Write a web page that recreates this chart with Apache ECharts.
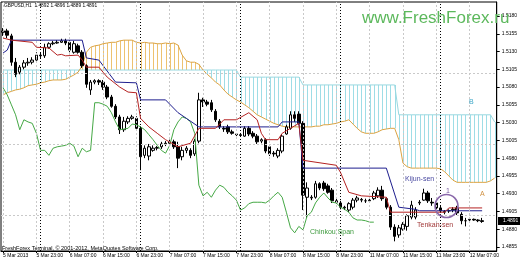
<!DOCTYPE html>
<html><head><meta charset="utf-8">
<script src="https://cdn.jsdelivr.net/npm/echarts@6/dist/echarts.min.js"></script>
<style>html,body{margin:0;padding:0;background:#fff}#c{width:520px;height:260px}</style>
</head><body><div id="c"></div>
<script>
const timeLabels = ['5 Mar 2013','5 Mar 23:00','6 Mar 07:00','6 Mar 15:00','6 Mar 23:00','7 Mar 07:00','7 Mar 15:00','7 Mar 23:00','8 Mar 07:00','8 Mar 15:00','8 Mar 23:00','11 Mar 07:00','11 Mar 15:00','11 Mar 23:00','12 Mar 07:00'];
const priceTicks = [1.4855,1.4880,1.4905,1.4930,1.4955,1.4980,1.5005,1.5030,1.5055,1.5080,1.5105,1.5130,1.5155,1.5180];
const gridBars = [0,8,16,24,32,40,48,56,64,72,80,88,96,104,112];
const daySeparators = [9,33,57,81,105];
const barSlots = 119;
const lastBar = {open:1.4892, high:1.4896, low:1.4889, close:1.4891};

// [open, close, low, high]
const candles = [
[1.5157,1.5159,1.5152,1.5163],[1.5159,1.5153,1.5149,1.5162],[1.5152,1.5115,1.5110,1.5155],[1.5115,1.5098,1.5094,1.5121],
[1.5101,1.5108,1.5098,1.5111],[1.5108,1.5114,1.5105,1.5118],[1.5114,1.5115,1.5110,1.5121],[1.5115,1.5118,1.5112,1.5122],
[1.5118,1.5125,1.5117,1.5129],[1.5125,1.5124,1.5121,1.5129],[1.5124,1.5136,1.5121,1.5141],[1.5136,1.5141,1.5134,1.5143],
[1.5141,1.5142,1.5139,1.5145],[1.5142,1.5143,1.5141,1.5146],[1.5143,1.5145,1.5142,1.5148],[1.5145,1.5142,1.5139,1.5148],
[1.5143,1.5132,1.5129,1.5146],[1.5129,1.5141,1.5127,1.5145],[1.5138,1.5129,1.5127,1.5141],[1.5129,1.5110,1.5107,1.5132],
[1.5110,1.5084,1.5079,1.5112],[1.5076,1.5087,1.5069,1.5090],[1.5087,1.5089,1.5084,1.5091],[1.5089,1.5087,1.5083,1.5091],
[1.5087,1.5080,1.5076,1.5090],[1.5080,1.5066,1.5063,1.5083],[1.5066,1.5053,1.5051,1.5069],[1.5053,1.5038,1.5035,1.5056],
[1.5038,1.5020,1.5014,1.5041],[1.5020,1.5032,1.5017,1.5038],[1.5031,1.5036,1.5028,1.5039],[1.5036,1.5038,1.5034,1.5041],
[1.5036,1.5022,1.5020,1.5039],[1.5022,1.4982,1.4963,1.5025],[1.4984,1.4994,1.4980,1.4998],[1.4983,1.4996,1.4977,1.5000],
[1.4991,1.4994,1.4989,1.4998],[1.4994,1.4995,1.4991,1.4997],[1.4996,1.5000,1.4993,1.5003],[1.5000,1.5001,1.4997,1.5004],
[1.5001,1.5003,1.4998,1.5006],[1.5003,1.4996,1.4993,1.5006],[1.4996,1.4980,1.4966,1.5003],[1.4982,1.4991,1.4977,1.4996],
[1.4991,1.4994,1.4987,1.4997],[1.4991,1.4984,1.4980,1.4994],[1.4986,1.5004,1.4983,1.5007],[1.5004,1.5062,1.5001,1.5072],
[1.5062,1.5059,1.5052,1.5065],[1.5059,1.5056,1.5053,1.5062],[1.5058,1.5048,1.5045,1.5062],[1.5046,1.5034,1.5031,1.5049],
[1.5032,1.5024,1.5021,1.5035],[1.5022,1.5021,1.5017,1.5025],[1.5024,1.5017,1.5014,1.5027],[1.5017,1.5015,1.5013,1.5020],
[1.5014,1.5013,1.5011,1.5015],[1.5013,1.5012,1.5010,1.5014],[1.5011,1.5022,1.5010,1.5025],[1.5022,1.5014,1.5011,1.5025],
[1.5015,1.5011,1.5008,1.5018],[1.5011,1.5003,1.5000,1.5014],[1.5004,1.5006,1.5001,1.5008],[1.5006,1.4990,1.4987,1.5008],
[1.4996,1.4986,1.4983,1.4998],[1.4987,1.4986,1.4982,1.4990],[1.4983,1.4991,1.4980,1.4994],[1.4990,1.5011,1.4987,1.5014],
[1.5014,1.5024,1.5013,1.5027],[1.5022,1.5041,1.5020,1.5046],[1.5041,1.5036,1.5031,1.5046],[1.5042,1.5029,1.5027,1.5046],
[1.5029,1.4928,1.4907,1.5032],[1.4925,1.4938,1.4896,1.4946],[1.4924,1.4925,1.4921,1.4928],[1.4925,1.4944,1.4923,1.4948],
[1.4944,1.4938,1.4935,1.4946],[1.4945,1.4937,1.4934,1.4948],[1.4941,1.4932,1.4930,1.4944],[1.4935,1.4920,1.4917,1.4938],
[1.4920,1.4918,1.4916,1.4923],[1.4917,1.4911,1.4908,1.4920],[1.4910,1.4911,1.4907,1.4913],[1.4907,1.4916,1.4904,1.4918],
[1.4911,1.4921,1.4908,1.4924],[1.4921,1.4924,1.4918,1.4927],[1.4921,1.4922,1.4918,1.4924],[1.4920,1.4920,1.4917,1.4923],
[1.4920,1.4921,1.4918,1.4924],[1.4923,1.4931,1.4921,1.4934],[1.4927,1.4935,1.4924,1.4939],[1.4935,1.4923,1.4920,1.4941],
[1.4923,1.4911,1.4908,1.4925],[1.4911,1.4883,1.4879,1.4914],[1.4883,1.4870,1.4863,1.4887],[1.4872,1.4882,1.4868,1.4886],
[1.4880,1.4887,1.4878,1.4890],[1.4884,1.4899,1.4878,1.4901],[1.4897,1.4914,1.4894,1.4920],[1.4897,1.4907,1.4894,1.4911],
[1.4917,1.4918,1.4914,1.4921],[1.4921,1.4931,1.4920,1.4937],[1.4931,1.4920,1.4917,1.4934],[1.4918,1.4917,1.4913,1.4924],
[1.4917,1.4910,1.4908,1.4920],[1.4910,1.4906,1.4903,1.4913],[1.4904,1.4905,1.4901,1.4907],[1.4906,1.4906,1.4903,1.4908],
[1.4907,1.4908,1.4904,1.4911],[1.4910,1.4903,1.4900,1.4913],[1.4901,1.4892,1.4887,1.4904],[1.4892,1.4892,1.4884,1.4896],
[1.4893,1.4894,1.4890,1.4896],[1.4894,1.4893,1.4892,1.4895],[1.4893,1.4892,1.4890,1.4894],[1.4892,1.4891,1.4889,1.4896]
];

// [bar index, price] vertices
const tenkan = [[0,1.5149],[2,1.5146],[7,1.5143],[8,1.5136],[11,1.5135],[13,1.5125],[14,1.5126],[15,1.5124],[18,1.5125],[19,1.5118],
[20,1.5108],[23,1.5108],[24,1.5101],[25,1.5094],[28,1.5080],[30,1.5073],[32,1.5072],[33,1.5036],[35,1.5024],[37,1.5015],
[39,1.5006],[42,1.4996],[45,1.5001],[47,1.5022],[51,1.5022],[53,1.5034],[56,1.5034],[59,1.5044],[61,1.5034],[62,1.5015],
[63,1.5006],[66,1.5006],[67,1.5015],[69,1.5022],[71,1.5029],[72,1.4977],[80,1.4970],[81,1.4960],[83,1.4932],[86,1.4927],
[92,1.4925],[93,1.4904],[106,1.4904],[107,1.4910],[115,1.4910]];
const kijun = [[0,1.5128],[1,1.5132],[2,1.5146],[19,1.5146],[20,1.5121],[23,1.5118],[27,1.5087],[32,1.5086],[33,1.5062],[39,1.5062],
[42,1.5044],[44,1.5036],[47,1.5024],[66,1.5024],[67,1.5031],[71,1.5031],[72,1.4966],[92,1.4966],[95,1.4911],[99,1.4908],
[100,1.4906],[115,1.4906]];

const chikou = [
1.5079,1.5069,1.5055,1.5041,1.5020,1.5034,1.5031,1.5029,1.5015,1.4991,
1.4991,1.4984,1.4994,1.4996,1.4997,1.4998,1.5001,1.4997,1.4982,1.4994,
1.4989,1.4991,1.5058,1.5058,1.5056,1.5053,1.5044,1.5031,1.5020,1.5021,
1.5022,1.5028,1.5027,1.5024,1.5020,1.5013,1.5006,1.4998,1.4991,1.4987,
1.4998,1.5020,1.5031,1.5038,1.5036,1.5031,1.5015,1.4942,1.4927,1.4932,
1.4925,1.4935,1.4942,1.4939,1.4932,1.4927,1.4921,1.4907,1.4910,1.4916,
1.4918,1.4918,1.4918,1.4917,1.4921,1.4927,1.4932,1.4925,1.4904,1.4882,
1.4875,1.4884,1.4879,1.4899,1.4904,1.4917,1.4925,1.4931,1.4924,1.4918,
1.4917,1.4911,1.4908,1.4904,1.4896,1.4893,1.4893,1.4892,1.4890,1.4890];

const spanA = [
1.5069,1.5072,1.5074,1.5076,1.5077,1.5079,1.5082,1.5083,1.5084,1.5086,
1.5087,1.5089,1.5090,1.5090,1.5090,1.5091,1.5094,1.5097,1.5101,1.5110,
1.5129,1.5136,1.5138,1.5139,1.5141,1.5142,1.5143,1.5143,1.5145,1.5146,
1.5146,1.5146,1.5143,1.5142,1.5143,1.5142,1.5142,1.5141,1.5141,1.5142,
1.5141,1.5142,1.5139,1.5125,1.5117,1.5115,1.5115,1.5112,1.5104,1.5098,
1.5093,1.5087,1.5083,1.5076,1.5070,1.5066,1.5062,1.5059,1.5055,1.5051,
1.5046,1.5041,1.5038,1.5035,1.5032,1.5029,1.5027,1.5025,1.5024,1.5024,
1.5024,1.5024,1.5024,1.5024,1.5024,1.5025,1.5025,1.5027,1.5027,1.5028,
1.5029,1.5031,1.5032,1.5034,1.5028,1.5022,1.5017,1.5015,1.5015,1.5015,
1.5017,1.5020,1.5021,1.5022,1.5022,1.5006,1.4973,1.4968,1.4966,1.4966,
1.4966,1.4966,1.4966,1.4966,1.4966,1.4965,1.4961,1.4955,1.4949,1.4946,
1.4946,1.4946,1.4946,1.4946,1.4946,1.4946,1.4946,1.4948,1.4952];

const spanB = [
1.5104,1.5104,1.5104,1.5104,1.5104,1.5104,1.5104,1.5104,1.5104,1.5104,
1.5104,1.5104,1.5104,1.5104,1.5104,1.5104,1.5104,1.5104,1.5104,1.5104,
1.5104,1.5104,1.5104,1.5104,1.5104,1.5104,1.5104,1.5104,1.5104,1.5104,
1.5104,1.5104,1.5104,1.5104,1.5104,1.5104,1.5104,1.5104,1.5104,1.5104,
1.5104,1.5104,1.5104,1.5104,1.5104,1.5104,1.5104,1.5104,1.5104,1.5104,
1.5104,1.5104,1.5104,1.5104,1.5104,1.5104,1.5104,1.5094,1.5094,1.5094,
1.5094,1.5094,1.5094,1.5094,1.5094,1.5094,1.5094,1.5094,1.5094,1.5094,
1.5094,1.5094,1.5083,1.5083,1.5083,1.5083,1.5083,1.5083,1.5083,1.5083,
1.5083,1.5083,1.5083,1.5083,1.5083,1.5083,1.5083,1.5083,1.5083,1.5083,
1.5083,1.5083,1.5083,1.5083,1.5083,1.5041,1.5041,1.5041,1.5041,1.5041,
1.5041,1.5041,1.5041,1.5041,1.5041,1.5041,1.5041,1.5041,1.5041,1.5041,
1.5041,1.5041,1.5041,1.5041,1.5041,1.5041,1.5041,1.5041,1.5031];

const FONT = 'Liberation Sans, Arial, sans-serif';
const categories = Array.from({length: barSlots}, (_, i) => i);
const kumo = spanA.map((a, i) => [i, a, spanB[i]]);

const gridMarks = priceTicks.map(v => ({yAxis: v}))
  .concat(gridBars.map(i => ({xAxis: i})))
  .concat(daySeparators.map(i => ({xAxis: i, lineStyle: {color: '#000', type: [1, 2], width: 1}})));

const chart = echarts.init(document.getElementById('c'), null, {renderer: 'canvas', width: 520, height: 260});
const option = {
  animation: false,
  backgroundColor: '#fff',
  grid: {left: 1, right: 23, top: 2, bottom: 9, show: true, borderColor: '#000', borderWidth: 1, backgroundColor: '#fff'},
  xAxis: {
    type: 'category', data: categories, boundaryGap: true,
    axisLine: {show: true, lineStyle: {color: '#000', width: 1}},
    axisTick: {show: true, interval: 7, alignWithLabel: true, length: 2, lineStyle: {color: '#000'}},
    axisLabel: {interval: 7, align: 'left', margin: 2, fontSize: 5, fontFamily: FONT, color: '#000',
      formatter: (v, idx) => timeLabels[idx / 8] || ''},
    splitLine: {show: false}
  },
  yAxis: {
    type: 'value', position: 'right', min: 1.48494, max: 1.51997, scale: true,
    axisLine: {show: true, lineStyle: {color: '#000', width: 1}},
    axisTick: {show: true, length: 3, customValues: priceTicks, lineStyle: {color: '#000'}},
    axisLabel: {show: true, customValues: priceTicks, margin: 5, fontSize: 5, fontFamily: FONT, color: '#000',
      formatter: v => v.toFixed(4)},
    splitLine: {show: false}
  },
  series: [
    {
      type: 'custom', name: 'Kumo', z: 1, silent: true, data: kumo,
      encode: {x: 0, y: [1, 2]},
      renderItem: function (params, api) {
        const i = api.value(0), a = api.value(1), b = api.value(2);
        const p1 = api.coord([i, a]), p2 = api.coord([i, b]);
        const x = Math.round(p1[0]) + 0.5;
        return {type: 'line', shape: {x1: x, y1: p1[1], x2: x, y2: p2[1]},
          style: {stroke: a >= b ? '#edc270' : '#9edde6', lineWidth: 1}};
      }
    },
    {
      type: 'line', name: 'Senkou Span B', z: 2, data: spanB.map((v, i) => [i, v]), showSymbol: false, silent: true,
      lineStyle: {color: '#98d8e0', width: 1},
      markLine: {silent: true, symbol: ['none', 'none'], label: {show: false}, animation: false,
        lineStyle: {color: '#c9c9c9', type: [2, 2], width: 1}, data: gridMarks}
    },
    {
      type: 'line', name: 'Senkou Span A', z: 2, data: spanA.map((v, i) => [i, v]), showSymbol: false, silent: true,
      lineStyle: {color: '#dca443', width: 1}
    },
    {
      type: 'candlestick', name: 'GBPUSD', z: 3, data: candles, barWidth: 3, silent: true,
      itemStyle: {color: '#fff', color0: '#000', borderColor: '#000', borderColor0: '#000', borderWidth: 1}
    },
    {
      type: 'line', name: 'Chinkou Span', z: 4, data: chikou.map((v, i) => [i, v]), showSymbol: false, silent: true,
      lineStyle: {color: '#45a845', width: 1}
    },
    {
      type: 'line', name: 'Kijun-sen', z: 4, data: kijun, showSymbol: false, silent: true,
      lineStyle: {color: '#1e1e8e', width: 1}
    },
    {
      type: 'line', name: 'Tenkan-sen', z: 5, data: tenkan, showSymbol: false, silent: true,
      lineStyle: {color: '#b52222', width: 1}
    }
  ],
  graphic: {elements: [
    {id: 'wm', type: 'text', x: 362, y: 10, z: 10, silent: true,
      style: {text: 'www.FreshForex.ru', fill: '#5cb85c', fontSize: 17, fontFamily: FONT}},
    {id: 'hdr', type: 'text', x: 4, y: 3, z: 10, silent: true,
      style: {text: 'GBPUSD,H1  ' + [lastBar.open, lastBar.high, lastBar.low, lastBar.close].map(v => v.toFixed(4)).join(' '),
        fill: '#000', fontSize: 4.8, fontFamily: FONT}},
    {id: 'copy', type: 'text', x: 2, y: 245, z: 10, silent: true,
      style: {text: 'FreshForex Terminal, \u00a9 2001-2012, MetaQuotes Software Corp.', fill: '#000', fontSize: 5.5, fontFamily: FONT}},
    {id: 'lk', type: 'text', x: 405, y: 176, z: 10, silent: true,
      style: {text: 'Kijun-sen', fill: '#4848a0', fontSize: 7, fontFamily: FONT}},
    {id: 'lt', type: 'text', x: 417, y: 222, z: 10, silent: true,
      style: {text: 'Tenkan-sen', fill: '#a23a3a', fontSize: 7, fontFamily: FONT}},
    {id: 'lc', type: 'text', x: 310, y: 229, z: 10, silent: true,
      style: {text: 'Chinkou Span', fill: '#3d9a3d', fontSize: 7, fontFamily: FONT}},
    {id: 'l1', type: 'text', x: 446, y: 188, z: 10, silent: true,
      style: {text: '1', fill: '#7a5aa0', fontSize: 7, fontFamily: FONT}},
    {id: 'la', type: 'text', x: 480, y: 191, z: 10, silent: true,
      style: {text: 'A', fill: '#d09040', fontSize: 7, fontFamily: FONT}},
    {id: 'lb', type: 'text', x: 469, y: 99, z: 10, silent: true,
      style: {text: 'B', fill: '#40a8c8', fontSize: 7, fontFamily: FONT}},
    {id: 'circ', type: 'circle', z: 10, silent: true, shape: {cx: 446.5, cy: 206, r: 11.5},
      style: {fill: 'none', stroke: '#8a68aa', lineWidth: 1.6}}
  ]}
};
chart.setOption(option);

const py = chart.convertToPixel({yAxisIndex: 0}, lastBar.close);
chart.setOption({graphic: {elements: [
  {id: 'pbox', type: 'rect', z: 20, silent: true, shape: {x: 498, y: Math.round(py) - 4, width: 22, height: 8},
    style: {fill: '#000'}},
  {id: 'ptxt', type: 'text', z: 21, silent: true, x: 503, y: Math.round(py) - 3,
    style: {text: lastBar.close.toFixed(4), fill: '#fff', fontSize: 5, fontFamily: FONT}}
]}});
</script>
</body></html>
